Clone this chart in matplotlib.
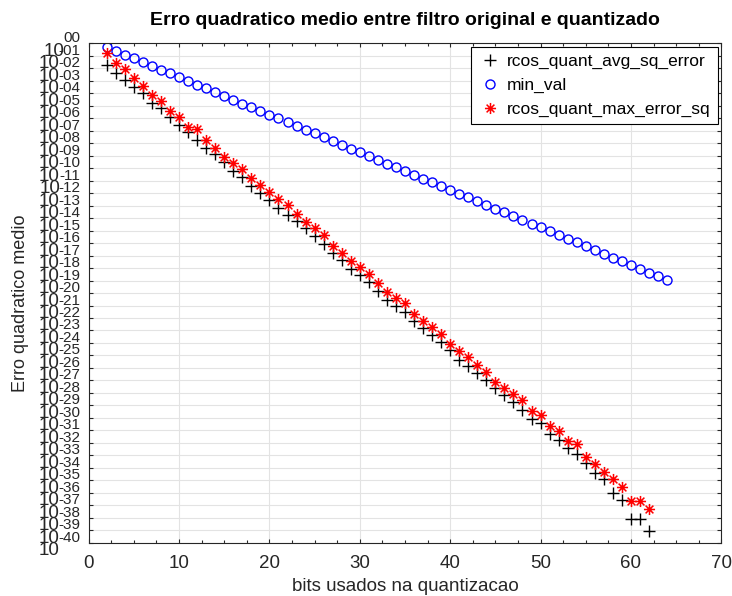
import matplotlib
matplotlib.use('Agg')
import matplotlib.pyplot as plt
import matplotlib.transforms as mtransforms
from matplotlib.path import Path
from matplotlib.ticker import NullLocator, MultipleLocator

plt.rcParams['font.family'] = ['Liberation Sans', 'DejaVu Sans']

# bits used in the quantization
bits = list(range(2, 63))
bits_min = list(range(2, 65))

# values, as log10 of the error
avg_sq_error_log10 = [
    -1.74, -2.35, -2.94, -3.47, -4.00, -4.75, -5.20, -5.92, -6.54, -7.07,
    -7.74, -8.35, -8.88, -9.47, -10.22, -10.67, -11.39, -12.00, -12.54, -13.20,
    -13.74, -14.27, -14.80, -15.47, -16.08, -16.80, -17.34, -18.06, -18.54, -19.12,
    -19.87, -20.54, -21.02, -21.55, -22.27, -22.80, -23.34, -23.95, -24.59, -25.34,
    -25.82, -26.43, -27.00, -27.60, -28.14, -28.75, -29.34, -30.08, -30.40, -31.26,
    -31.74, -32.40, -32.90, -33.60, -34.40, -34.90, -36.00, -36.60, -38.13, -38.13,
    -39.07]
max_error_sq_log10 = [
    -0.80, -1.55, -2.08, -2.80, -3.42, -4.14, -4.59, -5.42, -5.92, -6.67,
    -6.86, -7.74, -8.40, -9.07, -9.60, -10.06, -10.80, -11.34, -11.92, -12.46,
    -12.97, -13.68, -14.32, -14.80, -15.39, -16.27, -16.80, -17.42, -17.95, -18.46,
    -19.20, -19.95, -20.40, -20.80, -21.66, -22.27, -22.72, -23.26, -24.06, -24.67,
    -25.12, -25.78, -26.35, -27.15, -27.60, -28.06, -28.59, -29.47, -29.74, -30.62,
    -31.07, -31.87, -32.10, -33.10, -33.70, -34.30, -34.90, -35.50, -36.67, -36.67,
    -37.30]
min_val_log10 = [
    -0.30, -0.60, -0.90, -1.20, -1.51, -1.81, -2.11, -2.41, -2.71, -3.01,
    -3.31, -3.61, -3.91, -4.21, -4.52, -4.82, -5.12, -5.42, -5.72, -6.02,
    -6.32, -6.62, -6.92, -7.22, -7.53, -7.83, -8.13, -8.43, -8.73, -9.03,
    -9.33, -9.63, -9.93, -10.24, -10.54, -10.84, -11.14, -11.44, -11.74, -12.04,
    -12.34, -12.64, -12.94, -13.25, -13.55, -13.85, -14.15, -14.45, -14.75, -15.05,
    -15.35, -15.65, -15.95, -16.26, -16.56, -16.86, -17.16, -17.46, -17.76, -18.06,
    -18.36, -18.66, -18.96]

decades = list(range(0, 41))

avg_sq_error = [10.0 ** v for v in avg_sq_error_log10]
max_error_sq = [10.0 ** v for v in max_error_sq_log10]
min_val = [10.0 ** v for v in min_val_log10]

# octave style asterisk marker
asterisk = Path([(0, -1), (0, 1), (-1, 0), (1, 0), (-0.7, -0.7), (0.7, 0.7), (-0.7, 0.7), (0.7, -0.7)],
                [Path.MOVETO, Path.LINETO] * 4)

fig = plt.figure(figsize=(7.32, 5.96), dpi=100)
ax = fig.add_axes([0.1212, 0.0894, 0.8642, 0.8379])

ax.plot(bits, avg_sq_error, ls='none', marker='+', color='black', ms=8.5, mew=1,
        label='rcos_quant_avg_sq_error')
ax.plot(bits_min, min_val, ls='none', marker='o', mfc='none', mec='blue', ms=6.5, mew=1,
        label='min_val')
ax.plot(bits, max_error_sq, ls='none', marker=asterisk, color='red', ms=8, mew=1.1,
        label='rcos_quant_max_error_sq')

ax.set_yscale('log')
ax.set_xlim(0, 70)
ax.set_ylim(1e-40, 1)

ax.set_xticks(range(0, 71, 10))
ax.xaxis.set_minor_locator(MultipleLocator(2.5))
ax.set_yticks([10.0 ** -k for k in decades])
ax.yaxis.set_minor_locator(NullLocator())
ax.set_yticklabels([])
ax.tick_params(which='both', direction='in', top=True, right=True, colors='#262626',
               labelsize=13.5, pad=9)
ax.tick_params(which='major', length=3, width=0.8)
ax.tick_params(which='minor', length=2, width=0.8)
for s in ax.spines.values():
    s.set_color('#262626')
    s.set_linewidth(0.8)

ax.grid(True, which='major', color='#e3e3e3', lw=0.8)
ax.set_axisbelow(True)

# y tick labels drawn as "10" plus a raised exponent, like octave does
trans = mtransforms.blended_transform_factory(ax.transAxes, ax.transData)
renderer = fig.canvas.get_renderer()
for k in decades:
    exp_txt = '00' if k == 0 else '-%02d' % k
    t_sup = ax.text(0, 10.0 ** -k, exp_txt, ha='right', va='baseline', fontsize=11,
                    color='#262626', clip_on=False,
                    transform=trans + mtransforms.ScaledTranslation(-0.087, 0.01, fig.dpi_scale_trans))
    bb = t_sup.get_window_extent(renderer)
    x0 = ax.transAxes.inverted().transform((bb.x0, 0))[0]
    ax.text(x0, 10.0 ** -k, '10', ha='right', va='baseline', fontsize=13.5,
            color='#262626', clip_on=False,
            transform=trans + mtransforms.ScaledTranslation(0.01, -0.125, fig.dpi_scale_trans))

ax.set_title('Erro quadratico medio entre filtro original e quantizado',
             fontsize=14, fontweight='bold', pad=13)
ax.set_xlabel('bits usados na quantizacao', fontsize=13.5, color='#262626', labelpad=4)
ax.set_ylabel('Erro quadratico medio', fontsize=13, color='#262626')
ax.yaxis.set_label_coords(-0.094, 0.48)

leg = ax.legend(loc='upper right', fontsize=12.5, frameon=True, fancybox=False,
                framealpha=1, edgecolor='black', borderaxespad=0.2,
                labelspacing=0.5, handletextpad=0.3, handlelength=1.4)
leg.get_frame().set_linewidth(0.8)

fig.savefig('out.png', dpi=100, facecolor='white')
